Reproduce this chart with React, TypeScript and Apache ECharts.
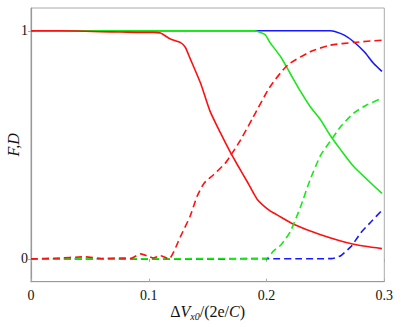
import React, { useEffect, useRef } from "react";
import * as echarts from "echarts";

const xTicks = [0, 0.1, 0.2, 0.3];
const yTicks = [0, 1];

const redF: number[][] = [
  [0, 1], [0.025, 1], [0.046, 0.998], [0.059, 0.996], [0.076, 0.995], [0.093, 0.993],
  [0.104, 0.993], [0.110, 0.99], [0.118, 0.965], [0.127, 0.948], [0.131, 0.928],
  [0.135, 0.88], [0.144, 0.77], [0.152, 0.648], [0.161, 0.551], [0.169, 0.47],
  [0.175, 0.415], [0.184, 0.335], [0.192, 0.262], [0.203, 0.21], [0.209, 0.193],
  [0.223, 0.152], [0.246, 0.106], [0.274, 0.064], [0.298, 0.045],
];
const greenF: number[][] = [
  [0, 1], [0.19, 1], [0.195, 0.993], [0.199, 0.983], [0.203, 0.948], [0.212, 0.886],
  [0.220, 0.814], [0.229, 0.733], [0.237, 0.668], [0.246, 0.609], [0.254, 0.542],
  [0.263, 0.478], [0.274, 0.405], [0.298, 0.287],
];
const blueF: number[][] = [
  [0, 1], [0.254, 1], [0.258, 0.997], [0.266, 0.981], [0.274, 0.952], [0.283, 0.908],
  [0.291, 0.857], [0.298, 0.822],
];
const redD: number[][] = [
  [0, 0], [0.02, 0.003], [0.046, 0.009], [0.06, 0.002], [0.075, 0.004], [0.085, 0.003],
  [0.093, 0.022], [0.1, 0.01], [0.104, 0.004], [0.11, 0.014], [0.117, 0],
  [0.127, 0.099], [0.135, 0.186], [0.141, 0.274], [0.147, 0.332], [0.155, 0.369],
  [0.165, 0.42], [0.169, 0.449], [0.178, 0.522], [0.188, 0.615], [0.203, 0.755],
  [0.218, 0.85], [0.237, 0.908], [0.254, 0.937], [0.274, 0.949], [0.298, 0.959],
];
const greenD: number[][] = [
  [0, 0], [0.2, 0.003], [0.206, 0.035], [0.212, 0.06], [0.220, 0.118], [0.229, 0.23],
  [0.237, 0.347], [0.246, 0.455], [0.254, 0.515], [0.263, 0.58], [0.274, 0.639],
  [0.285, 0.675], [0.298, 0.704],
];
const blueD: number[][] = [
  [0, 0], [0.255, 0.001], [0.263, 0.014], [0.269, 0.041], [0.272, 0.055],
  [0.280, 0.114], [0.289, 0.164], [0.298, 0.213],
];

const RED = "#ff1010";
const GREEN = "#18e818";
const BLUE = "#1818ff";
const FONT = "Liberation Serif";

export default function App() {
  const ref = useRef<HTMLDivElement>(null);
  useEffect(() => {
    if (!ref.current) return;
    const chart = echarts.init(ref.current, null, { renderer: "svg" });
    const line = (data: number[][], color: string, dashed: boolean, z: number) => ({
      type: "line",
      data,
      showSymbol: false,
      smooth: 0.2,
      z,
      lineStyle: { color, width: 1.6, type: dashed ? [7, 4] : "solid" },
    });
    const tickStyle = { show: true, inside: true, length: 3, lineStyle: { color: "#aaa", width: 1 } };
    chart.setOption({
      animation: false,
      textStyle: { fontFamily: FONT },
      grid: {
        left: 31, right: 16.7, top: 8, bottom: 45.3, show: true, borderColor: "#aaa", borderWidth: 1,
        containLabel: false, outerBoundsMode: "none",
      },
      xAxis: [
        {
          type: "value", min: 0, max: 0.3, interval: 0.1,
          axisLine: { show: true, onZero: false, lineStyle: { color: "#999", width: 1.2 } },
          axisTick: tickStyle,
          splitLine: { show: false },
          axisLabel: {
            margin: 7, color: "#111", fontFamily: FONT, fontSize: 14,
            customValues: xTicks,
            formatter: (v: number) => (Math.abs(v) < 1e-9 ? "0" : String(Math.round(v * 10) / 10)),
          },
          name: "{d|Δ}{v|V}{s|x0}{n|/(2e/}{v|C}{n|)}",
          nameLocation: "middle",
          nameGap: 20,
          nameMoveOverlap: false,
          nameTextStyle: {
            fontFamily: FONT,
            rich: {
              d: { fontFamily: FONT, fontSize: 16, color: "#111" },
              v: { fontFamily: FONT, fontSize: 16, fontStyle: "italic", color: "#111" },
              s: { fontFamily: FONT, fontSize: 10, fontStyle: "italic", color: "#111", padding: [10, 0, 0, 0] },
              n: { fontFamily: FONT, fontSize: 16, color: "#111" },
            },
          },
        },
        {
          type: "value", min: 0, max: 0.3, interval: 0.1, position: "top",
          axisLine: { show: false }, axisTick: tickStyle, axisLabel: { show: false }, splitLine: { show: false },
        },
      ],
      yAxis: [
        {
          type: "value", min: -0.1, max: 1.1,
          axisLine: { show: true, onZero: false, lineStyle: { color: "#999", width: 1.2 } },
          axisTick: { ...tickStyle, customValues: yTicks },
          splitLine: { show: false },
          axisLabel: { margin: 3, color: "#111", fontFamily: FONT, fontSize: 14, customValues: yTicks },
          name: "F,D",
          nameLocation: "middle",
          nameGap: 10,
          nameMoveOverlap: false,
          nameTextStyle: { fontFamily: FONT, fontSize: 16, fontStyle: "italic", color: "#111" },
        },
        {
          type: "value", min: -0.1, max: 1.1, position: "right",
          axisLine: { show: false },
          axisTick: { ...tickStyle, customValues: yTicks },
          axisLabel: { show: false }, splitLine: { show: false },
        },
      ],
      series: [
        line(blueF, BLUE, false, 2),
        line(greenF, GREEN, false, 3),
        line(redF, RED, false, 4),
        line(blueD, BLUE, true, 5),
        line(greenD, GREEN, true, 6),
        line(redD, RED, true, 7),
      ],
    });
    return () => chart.dispose();
  }, []);
  return (
    <div
      ref={ref}
      style={{ position: "fixed", left: 0, top: 0, width: 401, height: 327, background: "#fff" }}
    />
  );
}
